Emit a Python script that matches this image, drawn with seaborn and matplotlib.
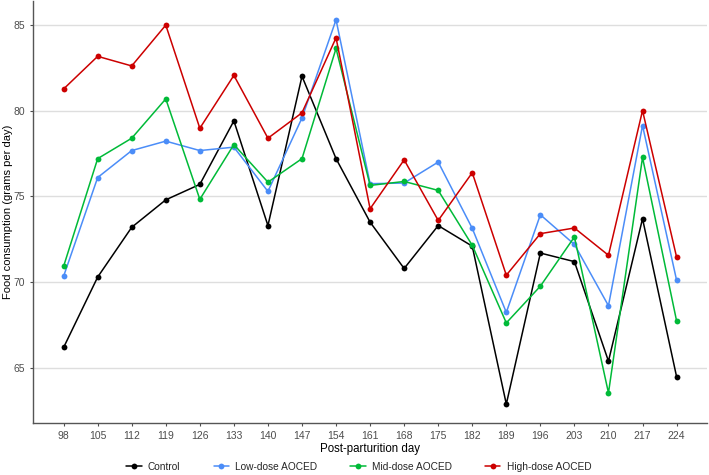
import matplotlib
matplotlib.use("Agg")
import matplotlib.pyplot as plt
import seaborn as sns
import pandas as pd

days = [98, 105, 112, 119, 126, 133, 140, 147, 154, 161, 168, 175, 182, 189, 196, 203, 210, 217, 224]
control = [66.2, 70.3, 73.2, 74.8, 75.7, 79.4, 73.3, 82.0, 77.2, 73.5, 70.8, 73.3, 72.1, 62.9, 71.7, 71.2, 65.4, 73.7, 64.5]
low_dose = [70.35, 76.1, 77.67, 78.22, 77.67, 77.87, 75.29, 79.57, 85.29, 75.74, 75.78, 77.0, 73.14, 68.24, 73.93, 72.2, 68.63, 79.13, 70.12]
mid_dose = [70.93, 77.2, 78.39, 80.68, 74.83, 78.02, 75.83, 77.2, 83.62, 75.64, 75.87, 75.35, 72.15, 67.63, 69.77, 72.64, 63.55, 77.27, 67.75]
high_dose = [81.26, 83.16, 82.6, 84.98, 78.97, 82.05, 78.39, 79.87, 84.24, 74.28, 77.13, 73.6, 76.38, 70.41, 72.83, 73.16, 71.57, 80.0, 71.47]
groups = ["Control", "Low-dose AOCED", "Mid-dose AOCED", "High-dose AOCED"]
colors = ["#000000", "#4B8DF8", "#00BA38", "#CC0000"]

series = [control, low_dose, mid_dose, high_dose]
df = pd.DataFrame({
    "day": days * 4,
    "value": [v for s in series for v in s],
    "group": [g for g in groups for _ in days],
})

sns.set_theme(style="white")
plt.rcParams["font.family"] = ["Liberation Sans", "DejaVu Sans"]

fig = plt.figure(figsize=(7.09, 4.75), dpi=100)
ax = fig.add_axes([0.0465, 0.1095, 0.951, 0.889])

sns.lineplot(data=df, x="day", y="value", hue="group", hue_order=groups,
             palette=colors, marker="o", markersize=4.2, markeredgewidth=0,
             linewidth=1.1, ax=ax, legend=True)

ax.set_xlim(91.7, 230.3)
ax.set_ylim(61.8, 86.4)
ax.set_xticks(days)
ax.set_xticklabels([str(d) for d in days])
ax.set_yticks([65, 70, 75, 80, 85])
ax.yaxis.grid(True, color="#DEDEDE", linewidth=1.0)
ax.xaxis.grid(False)
ax.set_axisbelow(True)
for side in ["top", "right"]:
    ax.spines[side].set_visible(False)
for side in ["left", "bottom"]:
    ax.spines[side].set_color("#555555")
    ax.spines[side].set_linewidth(1.0)
ax.tick_params(axis="both", colors="#4D4D4D", labelsize=7.5, length=2.5, width=0.8,
               direction="out", bottom=True, left=True, pad=3)
ax.tick_params(axis="both", labelcolor="#4D4D4D")
ax.set_xlabel("Post-parturition day", fontsize=8.3, color="#000000", labelpad=2)
ax.set_ylabel("Food consumption (grams per day)", fontsize=8.0, color="#000000", labelpad=2)
ax.yaxis.set_label_coords(-0.030, 0.5)

handles, labels = ax.get_legend_handles_labels()
ax.get_legend().remove()
leg = fig.legend(handles, labels, loc="center", bbox_to_anchor=(0.506, 0.017),
                 ncol=4, frameon=False, fontsize=7.3, handlelength=1.5,
                 columnspacing=3.3, handletextpad=0.6)

fig.savefig("out.png", dpi=100)
